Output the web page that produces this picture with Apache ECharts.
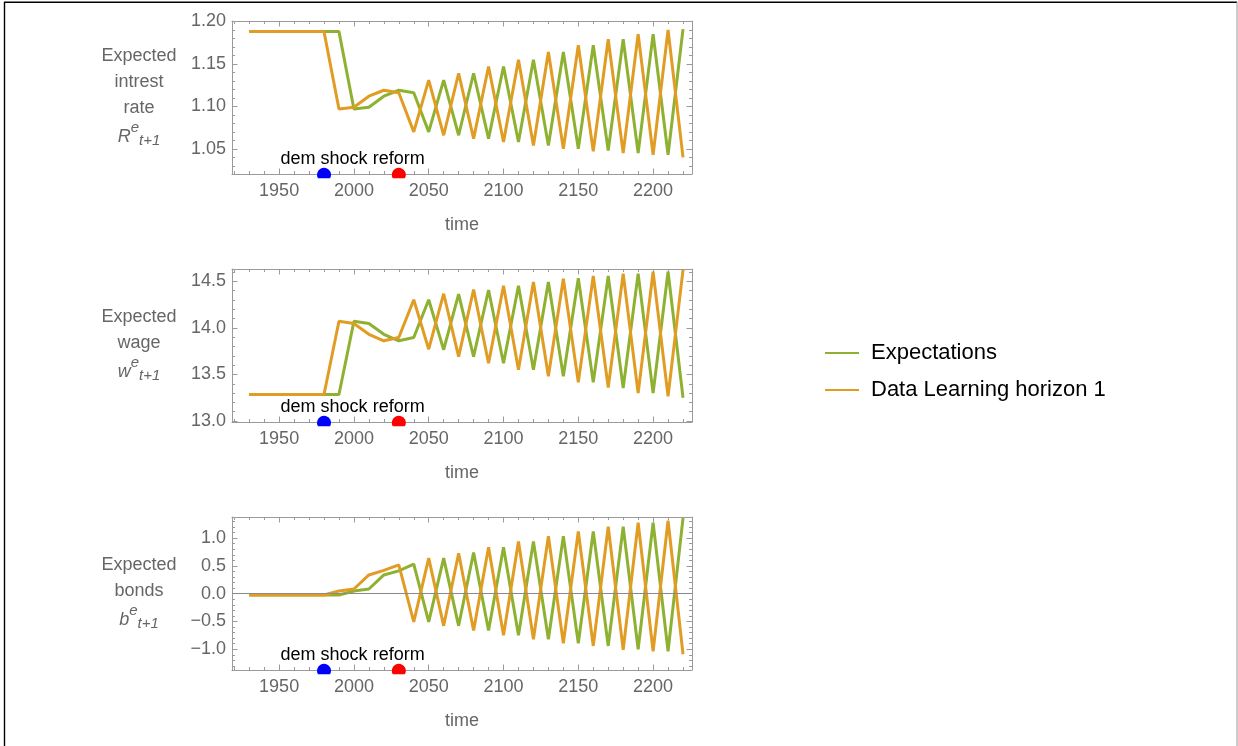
<!DOCTYPE html>
<html>
<head>
<meta charset="utf-8">
<script src="https://cdn.jsdelivr.net/npm/echarts@6/dist/echarts.min.js"></script>
<style>
html,body{margin:0;padding:0;background:#fff;}
#c{width:1238px;height:746px;}
</style>
</head>
<body>
<div id="c"></div>
<script>
// ---------------- data ----------------
const years = [1930,1940,1950,1960,1970,1980,1990,2000,2010,2020,2030,2040,2050,2060,2070,2080,2090,2100,2110,2120,2130,2140,2150,2160,2170,2180,2190,2200,2210,2220];

// Expected interest rate R^e_{t+1}
const rExp  = [1.188,1.188,1.188,1.188,1.188,1.188,1.188,1.097,1.099,1.112,1.119,1.116,1.070,1.131,1.066,1.139,1.062,1.147,1.058,1.155,1.054,1.164,1.050,1.172,1.048,1.179,1.045,1.185,1.043,1.191];
const rData = [1.188,1.188,1.188,1.188,1.188,1.188,1.097,1.099,1.112,1.119,1.116,1.070,1.131,1.066,1.139,1.062,1.147,1.058,1.155,1.054,1.164,1.050,1.172,1.047,1.179,1.045,1.185,1.043,1.190,1.040];

// Expected wage w^e_{t+1}
const wExp  = [13.284,13.284,13.284,13.284,13.284,13.284,13.284,14.07,14.045,13.93,13.86,13.895,14.30,13.765,14.36,13.69,14.405,13.62,14.45,13.55,14.49,13.48,14.53,13.415,14.555,13.355,14.58,13.30,14.60,13.25];
const wData = [13.284,13.284,13.284,13.284,13.284,13.284,14.07,14.045,13.93,13.86,13.895,14.30,13.77,14.365,13.69,14.41,13.62,14.45,13.55,14.49,13.48,14.525,13.415,14.555,13.36,14.58,13.30,14.60,13.265,14.62];

// Expected bonds b^e_{t+1}
const bExp  = [-0.024,-0.024,-0.024,-0.024,-0.024,-0.024,-0.024,0.048,0.084,0.337,0.41,0.53,-0.506,0.639,-0.578,0.74,-0.663,0.837,-0.747,0.94,-0.819,1.036,-0.892,1.12,-0.94,1.205,-1.0,1.277,-1.036,1.36];
const bData = [-0.024,-0.024,-0.024,-0.024,-0.024,-0.024,0.048,0.084,0.337,0.42,0.518,-0.506,0.639,-0.578,0.729,-0.663,0.837,-0.747,0.94,-0.819,1.036,-0.892,1.12,-0.94,1.205,-1.012,1.277,-1.036,1.313,-1.09];

// events
const eventYears  = [1980, 2030];
const eventNames  = ['dem shock', 'reform'];
const eventColors = ['#0000ff', '#ff0000'];

// tick labels
const xTicks = [1950, 2000, 2050, 2100, 2150, 2200];
const rTicks = [1.05, 1.10, 1.15, 1.20];
const wTicks = [13.0, 13.5, 14.0, 14.5];
const bTicks = [-1.0, -0.5, 0.0, 0.5, 1.0];

const seriesNames = ['Expectations', 'Data Learning horizon 1'];

// ---------------- styling / layout ----------------
const FONT = 'Liberation Sans, Arial, sans-serif';
const FRAME = '#9a9a9a';
const LABEL = '#666666';
const GREEN = '#8fb131';
const ORANGE = '#e19c24';
const X_MIN = 1918.5, X_MAX = 2226;

function range(a, b, step) {
  const out = [];
  for (let k = 0; a + k * step <= b + 1e-9; k++) out.push(+(a + k * step).toFixed(4));
  return out;
}
const xMinor = range(1920, 2220, 10);

const nameRich = {
  i:   {fontStyle: 'italic', fontSize: 18, color: LABEL, lineHeight: 30, fontFamily: FONT},
  sup: {fontStyle: 'italic', fontSize: 15, color: LABEL, padding: [0, 0, 18, 0], fontFamily: FONT},
  sub: {fontStyle: 'italic', fontSize: 15, color: LABEL, padding: [8, 0, 0, 0], fontFamily: FONT}
};

const panels = [
  {top: 21,  min: 1.0204, max: 1.2005, ticks: rTicks, minor: range(1.03, 1.20, 0.01), dec: 2,
   name: 'Expected\nintrest\nrate\n{i|R}{sup|e}{sub|t+1}', exp: rExp, dat: rData, zero: false},
  {top: 269, min: 12.99, max: 14.63, ticks: wTicks, minor: range(13.0, 14.6, 0.1), dec: 1,
   name: 'Expected\nwage\n{i|w}{sup|e}{sub|t+1}', exp: wExp, dat: wData, zero: false},
  {top: 517, min: -1.373, max: 1.38, ticks: bTicks, minor: range(-1.3, 1.3, 0.1), dec: 1,
   name: 'Expected\nbonds\n{i|b}{sup|e}{sub|t+1}', exp: bExp, dat: bData, zero: true}
];

const DOT = 'path://M-6.06 3.5A7 7 0 1 1 6.06 3.5Z';

const grids = [], xAxes = [], yAxes = [], series = [];

function tick(vals, len) {
  return {show: true, inside: true, length: len, customValues: vals,
          lineStyle: {color: FRAME, width: 1}};
}
const lineOn  = {show: true, onZero: false, lineStyle: {color: FRAME, width: 1}};
const lineOff = {show: false, onZero: false};

panels.forEach((p, i) => {
  grids.push({left: 232, width: 460, top: p.top, height: 153});

  const xb = {type: 'value', gridIndex: i, min: X_MIN, max: X_MAX, splitLine: {show: false}};
  xAxes.push(Object.assign({}, xb, {
    position: 'bottom', axisLine: lineOn, axisTick: tick(xTicks, 5.5),
    axisLabel: {show: true, customValues: xTicks, margin: 8, color: LABEL, fontSize: 18, fontFamily: FONT,
                formatter: v => String(v)},
    name: 'time', nameLocation: 'middle', nameGap: 42,
    nameTextStyle: {color: LABEL, fontSize: 18, fontFamily: FONT}
  }));
  xAxes.push(Object.assign({}, xb, {position: 'bottom', axisLine: lineOff, axisTick: tick(xMinor, 3), axisLabel: {show: false}}));
  xAxes.push(Object.assign({}, xb, {position: 'top', axisLine: lineOn, axisTick: tick(xTicks, 5.5), axisLabel: {show: false}}));
  xAxes.push(Object.assign({}, xb, {position: 'top', axisLine: lineOff, axisTick: tick(xMinor, 3), axisLabel: {show: false}}));

  const yb = {type: 'value', gridIndex: i, min: p.min, max: p.max, splitLine: {show: false}};
  yAxes.push(Object.assign({}, yb, {
    position: 'left', axisLine: lineOn, axisTick: tick(p.ticks, 5.5),
    axisLabel: {show: true, customValues: p.ticks, margin: 6, color: LABEL, fontSize: 18, fontFamily: FONT,
                formatter: v => v.toFixed(p.dec).replace('-', '\u2212')},
    name: p.name, nameLocation: 'middle', nameRotate: 0, nameGap: 93,
    nameTextStyle: {color: LABEL, fontSize: 18, fontFamily: FONT, align: 'center', verticalAlign: 'middle',
                    lineHeight: 26, rich: nameRich}
  }));
  yAxes.push(Object.assign({}, yb, {position: 'left', axisLine: lineOff, axisTick: tick(p.minor, 3), axisLabel: {show: false}}));
  yAxes.push(Object.assign({}, yb, {position: 'right', axisLine: lineOn, axisTick: tick(p.ticks, 5.5), axisLabel: {show: false}}));
  yAxes.push(Object.assign({}, yb, {position: 'right', axisLine: lineOff, axisTick: tick(p.minor, 3), axisLabel: {show: false}}));

  const ax = 4 * i;
  const green = {
    name: seriesNames[0], type: 'line', xAxisIndex: ax, yAxisIndex: ax,
    data: years.map((y, k) => [y, p.exp[k]]),
    symbol: 'none', showSymbol: false,
    lineStyle: {color: GREEN, width: 3}, itemStyle: {color: GREEN}, z: 3
  };
  if (p.zero) {
    green.markLine = {silent: true, symbol: 'none', label: {show: false},
      lineStyle: {color: '#8a8a8a', width: 1, type: 'solid'},
      data: [{yAxis: 0}], animation: false};
  }
  series.push(green);
  series.push({
    name: seriesNames[1], type: 'line', xAxisIndex: ax, yAxisIndex: ax,
    data: years.map((y, k) => [y, p.dat[k]]),
    symbol: 'none', showSymbol: false,
    lineStyle: {color: ORANGE, width: 3}, itemStyle: {color: ORANGE}, z: 4
  });
  series.push({
    name: 'events', type: 'scatter', xAxisIndex: ax, yAxisIndex: ax, clip: false, silent: true,
    data: eventYears.map((y, k) => ({value: [y, p.min], name: eventNames[k], itemStyle: {color: eventColors[k], opacity: 1}})),
    symbol: DOT, symbolSize: [14, 10.5], symbolOffset: [0, -1], z: 6,
    label: {show: true, position: 'top', distance: 0, formatter: '{b}', color: '#000', fontSize: 18, fontFamily: FONT}
  });
});

const chart = echarts.init(document.getElementById('c'), null, {renderer: 'canvas'});
chart.setOption({
  animation: false,
  backgroundColor: '#ffffff',
  textStyle: {fontFamily: FONT},
  grid: grids,
  xAxis: xAxes,
  yAxis: yAxes,
  legend: {
    data: seriesNames, orient: 'vertical', left: 825, top: 342, padding: 0,
    icon: 'rect', itemWidth: 34, itemHeight: 2, itemGap: 15, selectedMode: false,
    textStyle: {fontSize: 22, color: '#000', fontFamily: FONT, lineHeight: 22, padding: [0, 0, 0, 7]}
  },
  graphic: [
    {type: 'line', shape: {x1: 4.5, y1: 2, x2: 4.5, y2: 746}, style: {stroke: '#000', lineWidth: 1.4}, silent: true},
    {type: 'line', shape: {x1: 4, y1: 2.2, x2: 1237, y2: 2.2}, style: {stroke: '#000', lineWidth: 1.4}, silent: true},
    {type: 'line', shape: {x1: 1237, y1: 2, x2: 1237, y2: 746}, style: {stroke: '#999', lineWidth: 1}, silent: true}
  ],
  series: series
});
</script>
</body>
</html>
